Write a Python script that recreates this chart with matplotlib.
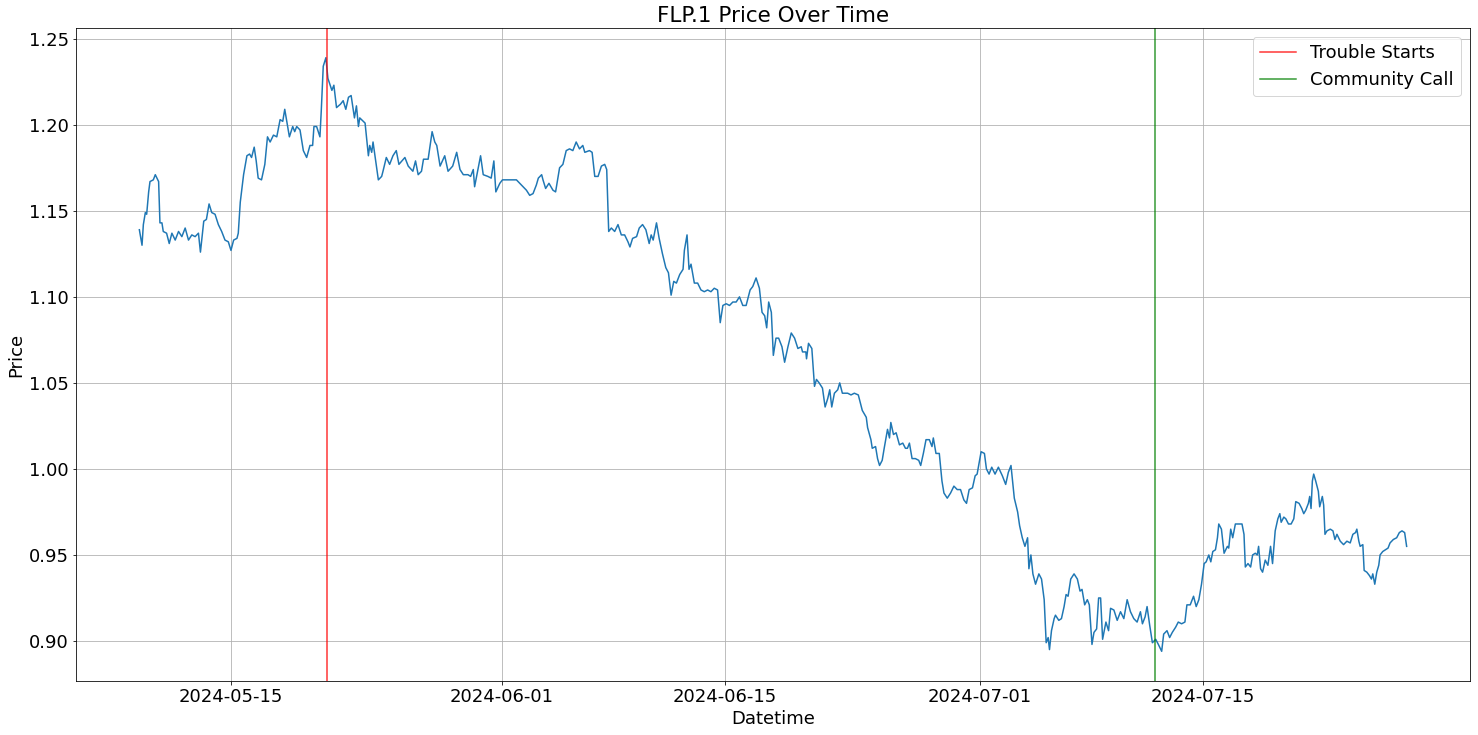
import pandas as pd
import matplotlib
matplotlib.use("Agg")
import matplotlib.pyplot as plt

# hours since first sample, and price read at that hour
start = pd.Timestamp("2024-05-09 06:00")
hours = [
    0, 4, 6, 9, 11, 14, 16, 21, 24, 29, 31, 34, 36, 41, 45, 49, 54, 59, 64, 69,
    74, 79, 84, 89, 92, 97, 101, 105, 109, 114, 119, 124, 129, 134, 138, 142, 147, 149, 152, 157,
    162, 166, 169, 173, 176, 179, 184, 189, 193, 197, 202, 207, 212, 216, 219, 222, 226, 231, 234, 237,
    242, 247, 252, 257, 261, 263, 267, 272, 274, 277, 281, 284, 290, 293, 297, 303, 307, 311, 315,
    319, 324, 327, 330, 332, 340, 345, 347, 350, 352, 360, 365, 367, 372, 377, 382, 387, 391, 400, 405,
    412, 416, 420, 425, 428, 435, 441, 445, 448, 453, 460, 465, 472, 478, 483, 488, 495, 499, 503, 505,
    510, 514, 518, 525, 530, 534, 537, 543, 547, 558, 568, 573, 578, 583, 588, 593, 598, 601, 606, 608,
    612, 617, 623, 627, 633, 638, 643, 648, 653, 658, 663,
    668, 671, 678, 682, 686, 691, 696, 701, 704, 707, 711, 716, 721, 726, 731, 736, 739, 743, 749, 753,
    758, 763, 768, 771, 774, 779, 783, 788, 793, 797, 801, 805, 809, 814, 819, 821, 825, 828, 831, 836,
    841, 846, 851, 856, 861, 866, 871, 875, 879, 884, 889, 894, 899, 904, 909, 914, 920, 924, 929, 934,
    938, 942, 945, 948, 952, 955, 959, 963, 968, 972, 977, 982, 987, 992, 997,
    999, 1004, 1005, 1008, 1013, 1017, 1020, 1024, 1029, 1033, 1037, 1040, 1043, 1047, 1052, 1055, 1059,
    1067, 1072, 1077, 1083, 1089, 1095, 1097, 1102, 1104, 1109, 1112, 1115, 1119, 1122, 1127, 1130, 1132,
    1136, 1140, 1145, 1150, 1154, 1157, 1160, 1164, 1169, 1174, 1177, 1181, 1185, 1190, 1194, 1196, 1200,
    1205, 1209, 1212, 1217, 1222, 1227, 1232, 1237, 1242, 1246, 1250, 1255, 1259, 1262, 1268, 1273, 1276,
    1280, 1284, 1289, 1294, 1300, 1305, 1309,
    1313, 1318, 1323, 1326, 1330, 1334, 1338, 1340, 1343, 1346, 1350, 1355, 1359, 1363, 1366, 1369, 1371,
    1374, 1378, 1380, 1385, 1389, 1393, 1396, 1399, 1403, 1408, 1413, 1417, 1420, 1424, 1428, 1431, 1435,
    1438, 1442, 1445, 1448, 1451, 1456, 1460, 1463, 1468, 1473, 1478, 1483, 1488, 1493, 1498, 1503, 1508,
    1511, 1515, 1518, 1522, 1526, 1531, 1535, 1540, 1543, 1548, 1552, 1556, 1561, 1565, 1570, 1575, 1578,
    1583, 1588, 1592, 1596, 1600, 1604, 1607, 1611, 1614, 1617, 1621, 1624, 1626, 1630, 1634, 1639, 1641,
    1644, 1647, 1651, 1655,
    1661, 1664, 1666, 1670, 1674, 1677, 1681, 1684, 1686, 1689, 1692, 1696, 1700, 1704, 1707, 1711, 1715,
    1718, 1720, 1724, 1727, 1731, 1735, 1739, 1742, 1747, 1751, 1754, 1757, 1761, 1763, 1765, 1767, 1769,
    1772, 1776, 1778, 1782, 1784, 1786, 1789, 1794, 1798, 1801, 1804, 1809, 1814, 1819, 1824, 1828, 1832,
    1834, 1837, 1839, 1843, 1845, 1849, 1853, 1856, 1858, 1861, 1864, 1867, 1869, 1873, 1877, 1881, 1884,
    1889, 1894, 1898, 1902, 1906, 1909,
]
price = [
    1.139, 1.130, 1.142, 1.149, 1.148, 1.161, 1.167, 1.168, 1.171, 1.167, 1.143, 1.143, 1.138, 1.137, 1.131, 1.137, 1.133, 1.138, 1.135, 1.140,
    1.133, 1.136, 1.135, 1.137, 1.126, 1.144, 1.145, 1.154, 1.149, 1.148, 1.142, 1.138, 1.133, 1.132, 1.127, 1.133, 1.134, 1.137, 1.155, 1.171,
    1.182, 1.183, 1.181, 1.187, 1.179, 1.169, 1.168, 1.177, 1.193, 1.190, 1.194, 1.193, 1.203, 1.202, 1.209, 1.202, 1.193, 1.199, 1.196, 1.199,
    1.197, 1.185, 1.181, 1.188, 1.188, 1.199, 1.199, 1.193, 1.208, 1.234, 1.239, 1.227, 1.220, 1.223, 1.210, 1.212, 1.214, 1.209, 1.216,
    1.217, 1.204, 1.211, 1.199, 1.204, 1.201, 1.182, 1.188, 1.184, 1.190, 1.168, 1.170, 1.173, 1.181, 1.177, 1.182, 1.185, 1.177, 1.181, 1.176,
    1.173, 1.179, 1.171, 1.173, 1.180, 1.180, 1.196, 1.190, 1.188, 1.176, 1.182, 1.173, 1.176, 1.184, 1.174, 1.171, 1.171, 1.170, 1.174, 1.164,
    1.174, 1.182, 1.171, 1.170, 1.169, 1.179, 1.161, 1.166, 1.168, 1.168, 1.168, 1.166, 1.164, 1.162, 1.159, 1.160, 1.165, 1.169, 1.171, 1.168,
    1.163, 1.166, 1.162, 1.161, 1.175, 1.177, 1.185, 1.186, 1.185, 1.190, 1.186,
    1.188, 1.184, 1.185, 1.184, 1.170, 1.170, 1.176, 1.177, 1.174, 1.138, 1.140, 1.138, 1.142, 1.136, 1.136, 1.132, 1.129, 1.134, 1.135, 1.140,
    1.142, 1.139, 1.131, 1.136, 1.133, 1.143, 1.134, 1.125, 1.117, 1.114, 1.101, 1.109, 1.108, 1.113, 1.116, 1.127, 1.136, 1.116, 1.119, 1.108,
    1.108, 1.104, 1.103, 1.104, 1.103, 1.105, 1.104, 1.085, 1.095, 1.096, 1.095, 1.097, 1.097, 1.100, 1.095, 1.095, 1.104, 1.106, 1.111, 1.105,
    1.091, 1.089, 1.082, 1.097, 1.091, 1.066, 1.076, 1.076, 1.071, 1.062, 1.071, 1.079, 1.076, 1.070, 1.071,
    1.068, 1.068, 1.064, 1.073, 1.070, 1.048, 1.052, 1.050, 1.047, 1.036, 1.041, 1.046, 1.036, 1.044, 1.046, 1.050, 1.044,
    1.044, 1.043, 1.044, 1.043, 1.034, 1.030, 1.024, 1.017, 1.012, 1.013, 1.006, 1.002, 1.005, 1.012, 1.023, 1.018, 1.027,
    1.020, 1.021, 1.014, 1.015, 1.012, 1.012, 1.015, 1.006, 1.006, 1.005, 1.002, 1.009, 1.017, 1.017, 1.013, 1.018, 1.009,
    1.009, 0.993, 0.986, 0.983, 0.986, 0.990, 0.988, 0.988, 0.982, 0.980, 0.988, 0.989, 0.996, 0.997, 1.010, 1.009, 1.000,
    0.997, 1.001, 0.997, 1.001, 0.996, 0.991, 0.998,
    1.002, 0.983, 0.975, 0.967, 0.960, 0.955, 0.960, 0.942, 0.950, 0.939, 0.933, 0.939, 0.936, 0.924, 0.899, 0.902, 0.895,
    0.906, 0.913, 0.915, 0.912, 0.913, 0.920, 0.927, 0.926, 0.936, 0.939, 0.936, 0.929, 0.930, 0.921, 0.924, 0.921, 0.898,
    0.905, 0.907, 0.925, 0.925, 0.901, 0.911, 0.906, 0.919, 0.918, 0.912, 0.917, 0.913, 0.924, 0.917, 0.913, 0.911, 0.917,
    0.910, 0.914, 0.920, 0.909, 0.899, 0.901, 0.898, 0.894, 0.904, 0.906, 0.902, 0.905, 0.908, 0.911, 0.910, 0.911, 0.921,
    0.921, 0.926, 0.920, 0.924, 0.933, 0.945, 0.946, 0.950, 0.946, 0.952, 0.953, 0.960, 0.968, 0.965, 0.951, 0.955, 0.954,
    0.965, 0.960, 0.968, 0.968,
    0.968, 0.962, 0.943, 0.945, 0.943, 0.950, 0.951, 0.950, 0.955, 0.942, 0.940, 0.947, 0.944, 0.955, 0.945, 0.964, 0.971,
    0.974, 0.969, 0.972, 0.971, 0.968, 0.968, 0.971, 0.981, 0.980, 0.977, 0.974, 0.976, 0.980, 0.984, 0.977, 0.993, 0.997,
    0.993, 0.987, 0.978, 0.984, 0.979, 0.962, 0.964, 0.965, 0.964, 0.959, 0.962, 0.958, 0.956, 0.958, 0.957, 0.962, 0.963,
    0.965, 0.958, 0.955, 0.956, 0.941, 0.940, 0.938, 0.936, 0.939, 0.933, 0.940, 0.944, 0.950, 0.952, 0.953, 0.954, 0.957,
    0.959, 0.960, 0.963, 0.964, 0.963, 0.955,
]
trouble_date = pd.Timestamp("2024-05-21")
call_date = pd.Timestamp("2024-07-12")

times = start + pd.to_timedelta(hours, unit="h")

dpi = 72
fig = plt.figure(figsize=(1478 / dpi, 735 / dpi), dpi=dpi)
ax = fig.add_axes([76 / 1478, 54 / 735, 1394 / 1478, 653 / 735])

ax.plot(times, price)
ax.axvline(trouble_date, color="r", alpha=0.8, label="Trouble Starts")
ax.axvline(call_date, color="g", alpha=0.8, label="Community Call")

ax.set_title("FLP.1 Price Over Time", fontsize=21.5)
ax.set_xlabel("Datetime", fontsize=18)
ax.set_ylabel("Price", fontsize=18)
ax.tick_params(labelsize=18)
ax.grid(True)
ax.legend(fontsize=18, loc="upper right")

fig.savefig("out.png", dpi=dpi)
